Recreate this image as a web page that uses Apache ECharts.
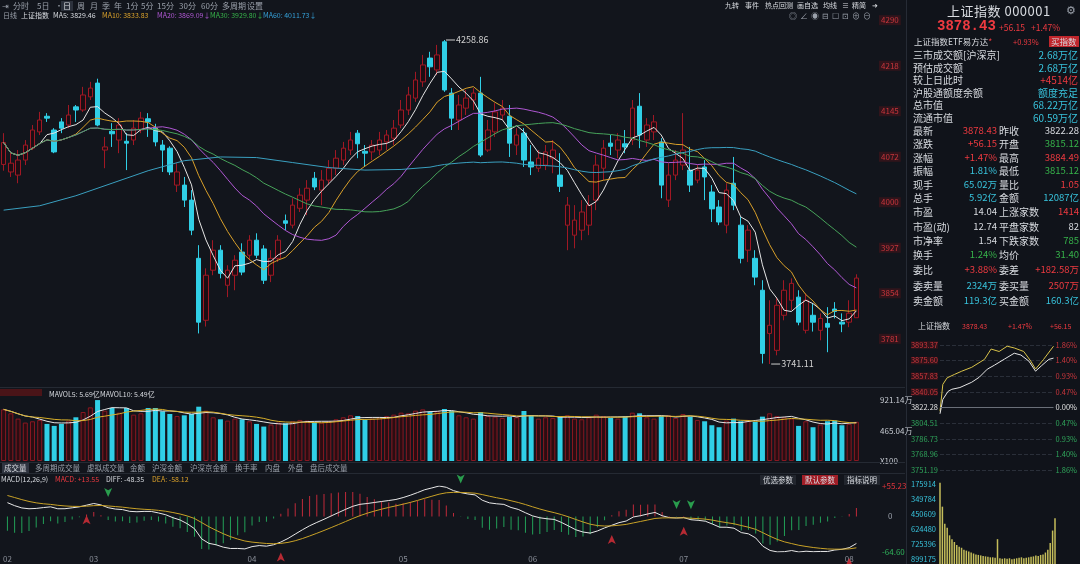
<!DOCTYPE html>
<html><head><meta charset="utf-8">
<script src="https://cdn.jsdelivr.net/npm/echarts@6/dist/echarts.min.js"></script>
<style>
html,body{margin:0;padding:0;background:#12151c;width:1080px;height:564px;overflow:hidden;}
#bgpanel{position:absolute;left:906px;top:0;width:174px;height:564px;background:#10131a;border-left:1px solid #262b35;}
#c{position:absolute;left:0;top:0;width:1080px;height:564px;}
#ov{position:absolute;left:0;top:0;width:1080px;height:564px;pointer-events:none;}
.t{position:absolute;white-space:nowrap;font-family:'Noto Sans CJK SC','Noto Sans',sans-serif;line-height:1;}
.g{color:#9aa0aa}.w{color:#d8dbe0}.r{color:#ee3a40}.c{color:#38c3dc}.gr{color:#36b24a}.y{color:#d9a02a}.p{color:#b058d4}.b{color:#35a0d8}
.hl{position:absolute;height:1px;background:#252a33;}
.tb{font-size:8px}
.m2{font-size:7px;top:12px}
</style></head><body>
<div id="bgpanel"></div>
<div id="c"></div>
<div id="ov">
  <!-- top toolbar -->
  <div class="t g tb" style="left:2px;top:2px">⇥</div>
  <div class="t g tb" style="left:13px;top:2px">分时</div>
  <div class="t g tb" style="left:37px;top:2px">5日</div>
  <div class="t g tb" style="left:55px;top:2px">·</div>
  <div class="t w tb" style="left:61px;top:1px;background:#2c313c;padding:1px 2px">日</div>
  <div class="t g tb" style="left:77px;top:2px">周</div>
  <div class="t g tb" style="left:90px;top:2px">月</div>
  <div class="t g tb" style="left:102px;top:2px">季</div>
  <div class="t g tb" style="left:114px;top:2px">年</div>
  <div class="t g tb" style="left:126px;top:2px">1分</div>
  <div class="t g tb" style="left:141px;top:2px">5分</div>
  <div class="t g tb" style="left:157px;top:2px">15分</div>
  <div class="t g tb" style="left:179px;top:2px">30分</div>
  <div class="t g tb" style="left:201px;top:2px">60分</div>
  <div class="t g tb" style="left:222px;top:2px">多周期</div>
  <div class="t g tb" style="left:247px;top:2px">设置</div>

  <div class="t g m2" style="left:3px">日线</div>
  <div class="t w m2" style="left:21px">上证指数</div>
  <div class="t w m2" style="left:53px">MA5: 3829.46</div>
  <div class="t y m2" style="left:102px">MA10: 3833.83</div>
  <div class="t p m2" style="left:157px">MA20: 3869.09↓</div>
  <div class="t gr m2" style="left:210px">MA30: 3929.80↓</div>
  <div class="t b m2" style="left:263px">MA60: 4011.73↓</div>

  <div class="t w" style="left:725px;top:2px;font-size:7px">九转</div>
  <div class="t w" style="left:745px;top:2px;font-size:7px">事件</div>
  <div class="t w" style="left:765px;top:2px;font-size:7px">热点回测</div>
  <div class="t w" style="left:797px;top:2px;font-size:7px">画自选</div>
  <div class="t w" style="left:823px;top:2px;font-size:7px">均线</div>
  <div class="t w" style="left:842px;top:2px;font-size:7px">≡</div>
  <div class="t w" style="left:852px;top:2px;font-size:7px">精简</div>
  <div class="t w" style="left:872px;top:2px;font-size:7px">➜</div>
  <div class="t g" style="left:789px;top:12px;font-size:8px;letter-spacing:3px">◎∠◉⊟☐⊡⊕⊖</div>

  <!-- separators -->
  <div class="hl" style="left:0;top:387px;width:905px"></div>
  <div class="hl" style="left:0;top:462px;width:905px"></div>
  <div class="hl" style="left:0;top:473px;width:905px"></div>

  <!-- volume header -->
  <div class="t" style="left:0;top:389px;width:42px;height:7px;background:#4a1418"></div>
  <div class="t w" style="left:49px;top:391px;font-size:7px">MAVOL5: 5.69亿</div>
  <div class="t w" style="left:100px;top:391px;font-size:7px">MAVOL10: 5.49亿</div>

  <!-- tabs -->
  <div class="t w" style="left:2px;top:463px;font-size:7.5px;background:#2f3440;padding:1px 2px">成交量</div>
  <div class="t g" style="left:35px;top:464px;font-size:7.5px">多周期成交量</div>
  <div class="t g" style="left:87px;top:464px;font-size:7.5px">虚拟成交量</div>
  <div class="t g" style="left:130px;top:464px;font-size:7.5px">金额</div>
  <div class="t g" style="left:152px;top:464px;font-size:7.5px">沪深金额</div>
  <div class="t g" style="left:190px;top:464px;font-size:7.5px">沪深京金额</div>
  <div class="t g" style="left:235px;top:464px;font-size:7.5px">换手率</div>
  <div class="t g" style="left:265px;top:464px;font-size:7.5px">内盘</div>
  <div class="t g" style="left:288px;top:464px;font-size:7.5px">外盘</div>
  <div class="t g" style="left:310px;top:464px;font-size:7.5px">盘后成交量</div>

  <!-- MACD header -->
  <div class="t w" style="left:1px;top:476px;font-size:7px">MACD(12,26,9)</div>
  <div class="t r" style="left:55px;top:476px;font-size:7px">MACD: +13.55</div>
  <div class="t w" style="left:106px;top:476px;font-size:7px">DIFF: -48.35</div>
  <div class="t y" style="left:152px;top:476px;font-size:7px">DEA: -58.12</div>
  <div class="t w" style="left:760px;top:475px;font-size:7.5px;background:#22262e;padding:1px 3px">优选参数</div>
  <div class="t w" style="left:802px;top:475px;font-size:7.5px;background:#a11e27;padding:1px 3px">默认参数</div>
  <div class="t w" style="left:844px;top:475px;font-size:7.5px;background:#22262e;padding:1px 3px">指标说明</div>

  <!-- right panel header -->
  <div class="t w" style="left:947px;top:4px;font-size:13px;letter-spacing:0.5px">上证指数 000001</div>
  <div class="t g" style="left:1066px;top:4px;font-size:11px">⚙</div>
  <div class="t r" style="left:937px;top:19px;font-size:14px;font-family:'Liberation Mono',monospace;font-weight:bold">3878.43</div>
  <div class="t r" style="left:999px;top:23px;font-size:8.5px">+56.15</div>
  <div class="t r" style="left:1031px;top:23px;font-size:8.5px">+1.47%</div>
  <div class="t w" style="left:914px;top:37px;font-size:8.5px">上证指数ETF易方达<span class="r">*</span></div>
  <div class="t r" style="left:1013px;top:38px;font-size:7.5px">+0.93%</div>
  <div class="t w" style="left:1049px;top:36px;font-size:8.5px;background:#c0262c;padding:1px 2px">买指数</div>
  <div id="rows"></div>

  <!-- intraday header -->
  <div class="t w" style="left:918px;top:322px;font-size:8px">上证指数</div>
  <div class="t r" style="left:962px;top:323px;font-size:7px">3878.43</div>
  <div class="t r" style="left:1008px;top:323px;font-size:7px">+1.47%</div>
  <div class="t r" style="left:1050px;top:323px;font-size:7px">+56.15</div>
  <div id="ivticks"></div>
</div>
<script>
// ---------- DATA ----------
const monthNames = ['02','03','04','05','06','07','08'];
const monthDays = [12,22,21,18,21,23,2];
// [open, close, low, high]
const ohlc = [
[4060,4095,4050,4110],[4048,4062,4040,4080],[4043,4067,4030,4083],[4067,4091,4059,4099],[4086,4115,4083,4123],
[4112,4131,4107,4144],[4137,4134,4128,4142],[4115,4080,4078,4118],[4128,4118,4110,4134],[4123,4139,4118,4155],
[4152,4147,4128,4155],[4147,4171,4144,4184],[4168,4182,4163,4192],[4190,4123,4121,4197],[4083,4088,4054,4104],
[4113,4109,4088,4126],[4099,4123,4078,4134],[4097,4094,4051,4110],[4099,4118,4091,4131],[4115,4134,4110,4144],
[4133,4128,4104,4142],[4118,4096,4089,4125],[4091,4083,4048,4099],[4086,4048,4043,4089],[4027,4048,4016,4062],
[4027,4003,3992,4040],[4003,3955,3947,4019],[3910,3808,3790,3931],[3811,3883,3801,3894],[3891,3923,3883,3939],
[3923,3886,3878,3931],[3867,3891,3848,3899],[3883,3907,3859,3915],[3920,3888,3883,3934],[3915,3939,3907,3947],
[3939,3915,3910,3950],[3925,3875,3869,3931],[3883,3910,3872,3923],[3910,3939,3904,3947],[3970,3966,3955,3980],
[3963,3995,3958,4006],[3990,4011,3984,4022],[4003,4022,3979,4035],[4038,4024,4019,4048],[4019,4035,3995,4051],
[4035,4054,4027,4067],[4054,4070,4043,4083],[4067,4086,4059,4096],[4083,4099,4075,4112],[4110,4093,4070,4115],
[4081,4078,4056,4091],[4080,4091,4067,4099],[4083,4099,4075,4112],[4096,4107,4083,4115],[4102,4118,4091,4131],
[4123,4147,4118,4163],[4147,4171,4139,4184],[4166,4195,4160,4208],[4192,4219,4184,4235],[4230,4216,4200,4240],
[4211,4235,4203,4251],[4256,4179,4176,4258.86],[4174,4134,4115,4182],[4131,4155,4115,4171],[4150,4166,4139,4179],
[4163,4174,4147,4182],[4174,4075,4072,4200],[4083,4115,4080,4131],[4112,4144,4104,4158],[4139,4150,4131,4163],
[4137,4094,4072,4155],[4091,4107,4075,4118],[4110,4067,4056,4118],[4064,4056,4043,4091],[4054,4070,4048,4083],
[4059,4080,4051,4091],[4070,4083,4046,4099],[4043,4025,4016,4078],[3963,3995,3923,4008],[3947,3971,3926,3995],
[3955,3984,3939,4003],[3963,3995,3947,4011],[4003,4059,3987,4075],[4054,4086,4035,4099],[4094,4089,4075,4107],
[4083,4099,4070,4110],[4093,4088,4078,4115],[4099,4150,4091,4163],[4153,4107,4086,4174],[4099,4123,4088,4134],
[4112,4128,4099,4139],[4096,4027,4006,4102],[4003,4043,3992,4062],[4043,4067,4035,4083],[4059,4083,4051,4142],
[4051,4027,4016,4088],[4035,4051,4030,4059],[4056,4040,4003,4067],[4016,3989,3968,4027],[3992,3968,3963,4003],
[3963,4019,3950,4030],[4030,3995,3987,4072],[3963,3910,3902,3976],[3923,3955,3904,3963],[3910,3880,3867,3923],
[3859,3758,3742,3875],[3790,3803,3741.11,3843],[3763,3835,3755,3848],[3819,3859,3811,3875],[3843,3870,3827,3878],
[3848,3808,3803,3859],[3795,3843,3790,3854],[3819,3808,3793,3838],[3795,3814,3779,3822],[3806,3800,3760,3832],
[3829,3825,3814,3840],[3808,3805,3792,3822],[3808,3822.28,3800,3843],[3815.12,3878.43,3815.12,3884.49]
];
// volume, 亿手
const volumes = [
7.8,7.2,6.4,5.8,6.0,6.2,5.6,5.3,5.6,6.1,6.6,7.4,8.1,9.2,7.6,8.0,7.3,8.0,7.0,7.2,
8.0,8.0,7.5,7.1,6.8,6.9,7.1,8.2,7.6,6.6,6.3,6.1,6.4,6.3,6.0,5.6,5.2,5.5,5.8,5.7,
6.0,6.2,6.1,5.9,5.8,6.0,6.3,6.6,6.9,6.8,6.2,6.4,6.6,6.8,7.0,7.3,7.2,7.6,7.8,7.4,
7.5,7.85,7.55,6.9,6.6,6.4,7.4,6.8,6.7,6.5,6.7,6.6,7.55,6.9,6.4,6.6,6.5,6.7,6.9,6.4,
6.3,6.6,7.0,6.8,6.5,6.4,6.7,7.3,7.2,6.6,6.4,6.8,6.9,6.5,7.1,6.7,6.2,6.0,5.4,5.1,
6.1,6.4,6.0,6.2,5.9,6.7,7.2,6.8,6.6,6.4,5.3,6.0,5.1,5.5,6.0,6.1,5.4,5.6,5.92
];
const ma60ReadIdx = [0,5,10,15,20,25,30,35,40,45,50,55];
const ma60ReadVal = [3987,3994,4010,4030,4050,4066,4072,4071,4063,4055,4051,4052];
// MACD state at the first candle
const macdStartDiff = 25, macdStartDea = 38;
// price axis tick scheme
const priceAxisMin = 3708.72, priceAxisMax = 4294, priceAxisStep = 72.72;
const volAxisMax = 9.2114;
const volTickLabels = ['X100','465.04万','921.14万'];
// intraday
const prevClose = 3822.28;
const intradayMin =   [0,6,17,25,42,67,83,100,115,136,157,171,188,202,215,230,240];
const intradayPrice = [3815.12,3831.5,3840.6,3843,3845,3851,3856.7,3865.9,3870.4,3877.3,3884.0,3882,3875,3863.6,3870,3877,3878.43];
const leadMin =   [0,6,15,31,46,67,94,108,125,142,157,177,192,202,219,240];
const leadPrice = [3818,3848.6,3856,3860,3863.6,3868,3877,3888.8,3886,3892,3890,3886,3875,3866,3877,3892];
const ivMin = [0,5,10,15,20,25,30,35,40,45,50,55,60,65,70,75,80,85,90,95,100,105,110,115,120,125,130,135,140,145,150,155,160,165,170,175,180,185,190,195,200,205,210,215,220,225,230,235,240];
const ivVol = [850000,600000,420000,380000,300000,260000,230000,200000,180000,170000,150000,140000,130000,120000,110000,100000,95000,90000,85000,80000,75000,70000,70000,65000,260000,60000,55000,60000,55000,60000,50000,55000,60000,65000,70000,60000,65000,70000,75000,80000,90000,85000,95000,100000,120000,150000,220000,350000,480000];
const intradayVolTicks = ['175914','349784','450609','624480','725396','899175'];
const intradayPctMax = 1.86, intradayPctStep = 0.465;

// right panel rows
const infoRows = [
 [55,'三市成交额[沪深京]','2.68万亿','c'],[68,'预估成交额','2.68万亿','c'],[80,'较上日此时','+4514亿','r'],
 [93,'沪股通额度余额','额度充足','c'],[105,'总市值','68.22万亿','c'],[118,'流通市值','60.59万亿','c']
];
const pairRows = [
 [131,'最新','3878.43','r','昨收','3822.28','w'],
 [144,'涨跌','+56.15','r','开盘','3815.12','gr'],
 [158,'涨幅','+1.47%','r','最高','3884.49','r'],
 [171,'振幅','1.81%','c','最低','3815.12','gr'],
 [185,'现手','65.02万','c','量比','1.05','r'],
 [198,'总手','5.92亿','c','金额','12087亿','c'],
 [212,'市盈','14.04','w','上涨家数','1414','r'],
 [227,'市盈(动)','12.74','w','平盘家数','82','w'],
 [241,'市净率','1.54','w','下跌家数','785','gr'],
 [255,'换手','1.24%','gr','均价','31.40','gr'],
 [270,'委比','+3.88%','r','委差','+182.58万','r'],
 [286,'委卖量','2324万','c','委买量','2507万','r'],
 [301,'卖金额','119.3亿','c','买金额','160.3亿','c']
];

// ---------- build text panel ----------
(function(){
  let h='';
  infoRows.forEach(r=>{
    h+=`<div class="t w" style="left:913px;top:${r[0]-5}px;font-size:10px">${r[1]}</div>`;
    h+=`<div class="t ${r[3]}" style="right:2px;top:${r[0]-5}px;font-size:10px">${r[2]}</div>`;
  });
  pairRows.forEach(r=>{
    h+=`<div class="t w" style="left:913px;top:${r[0]-5}px;font-size:10px">${r[1]}</div>`;
    h+=`<div class="t ${r[3]}" style="right:83px;top:${r[0]-5}px;font-size:9.5px">${r[2]}</div>`;
    h+=`<div class="t w" style="left:999px;top:${r[0]-5}px;font-size:10px">${r[4]}</div>`;
    h+=`<div class="t ${r[6]}" style="right:1px;top:${r[0]-5}px;font-size:9.5px">${r[5]}</div>`;
  });
  document.getElementById('rows').innerHTML=h;
  let k='';
  intradayVolTicks.forEach((s,i)=>{
    k+=`<div class="t c" style="left:911px;top:${480+i*15}px;font-size:7.5px">${s}</div>`;
  });
  document.getElementById('ivticks').innerHTML=k;
})();

// ---------- derived ----------
const cats=[], monthOf=[], monthStart=new Set();
monthNames.forEach((m,mi)=>{
  for(let d=1; d<=monthDays[mi]; d++){
    if(d===1) monthStart.add(cats.length);
    cats.push(m+'-'+d); monthOf.push(m);
  }
});
const closes = ohlc.map(d=>d[1]);
function maPartial(arr,n){
  return arr.map((c,i)=>{const s=Math.max(0,i-n+1); let t=0; for(let k=s;k<=i;k++) t+=arr[k]; return +(t/(i-s+1)).toFixed(2);});
}
const ma5=maPartial(closes,5), ma10=maPartial(closes,10), ma20=maPartial(closes,20), ma30=maPartial(closes,30);
const ma60 = closes.map((c,i)=>{ if(i<59) return '-'; let t=0; for(let k=i-59;k<=i;k++) t+=closes[k]; return +(t/60).toFixed(2);});
ma60ReadIdx.forEach((idx,k)=>{ ma60[idx]=ma60ReadVal[k]; });
const mavol5=maPartial(volumes,5), mavol10=maPartial(volumes,10);

// MACD(12,26,9) with the EMAs seeded from the state read at the first candle
let e12=closes[0]+macdStartDiff/2, e26=closes[0]-macdStartDiff/2, deaV=macdStartDea;
const diff=[], dea=[], hist=[];
closes.forEach((c,i)=>{
  if(i>0){ e12 += (c-e12)*2/13; e26 += (c-e26)*2/27; }
  const d=e12-e26; if(i>0) deaV += (d-deaV)*2/10;
  diff.push(+d.toFixed(2)); dea.push(+deaV.toFixed(2)); hist.push(+(2*(d-deaV)).toFixed(2));
});
const golden=[], death=[];
for(let i=1;i<closes.length;i++){
  if(diff[i-1]<=dea[i-1] && diff[i]>dea[i]) golden.push([i, dea[i]]);
  if(diff[i-1]>=dea[i-1] && diff[i]<dea[i]) death.push([i, dea[i]]);
}
const mAll=diff.concat(dea,hist);
const mMin=Math.min(...mAll), mMax=Math.max(...mAll);

const UP_BORDER='#a01824', CYAN='#30cfe6';
const volData = volumes.map((v,i)=>{
  const up = ohlc[i][1]>=ohlc[i][0];
  return {value:v, itemStyle: up ? {color:'rgba(60,8,12,0.6)', borderColor:'#8a1822', borderWidth:1} : {color:CYAN}};
});
const histData = hist.map(v=>({value:v, itemStyle:{color: v>=0 ? '#c02a3a' : '#22a058'}}));
const pct = p => +((p/prevClose-1)*100).toFixed(3);

const lineS = (name,data,color,xi,yi)=>({type:'line',name,data,xAxisIndex:xi,yAxisIndex:yi,showSymbol:false,symbol:'none',
  lineStyle:{color,width:1},itemStyle:{color},z:3,silent:true,connectNulls:true});

const chart = echarts.init(document.getElementById('c'));
chart.setOption({
  animation:false,
  backgroundColor:'transparent',
  textStyle:{fontFamily:"'Noto Sans CJK SC','Noto Sans',sans-serif"},
  grid:[
    {left:0, top:18, width:860, height:366.3},
    {left:0, top:400, width:860, height:61},
    {left:0, top:486, width:860, height:66},
    {left:940, top:345, width:115, height:125},
    {left:940, top:478, width:115, height:86}
  ],
  xAxis:[
    {type:'category', gridIndex:0, data:cats, show:false},
    {type:'category', gridIndex:1, data:cats, show:false},
    {type:'category', gridIndex:2, data:cats, axisLine:{show:false}, axisTick:{show:false}, splitLine:{show:false},
      axisLabel:{interval:(i)=>monthStart.has(i), formatter:(v,i)=>monthOf[i], color:'#8a8f99', fontSize:8, margin:3}},
    {type:'value', gridIndex:3, min:0, max:240, show:false},
    {type:'value', gridIndex:4, min:0, max:240, show:false}
  ],
  yAxis:[
    {type:'value', gridIndex:0, position:'right', min:priceAxisMin, max:priceAxisMax, interval:priceAxisStep,
      axisLine:{show:false}, axisTick:{show:false}, splitLine:{show:false},
      axisLabel:{showMinLabel:false, showMaxLabel:false, formatter:v=>String(Math.round(v)), color:'#c8363c', fontSize:8, margin:19,
        backgroundColor:'rgba(110,20,25,0.35)', padding:[1,2]}},
    {type:'value', gridIndex:1, position:'right', min:0, max:volAxisMax, interval:volAxisMax/2,
      axisLine:{show:false}, axisTick:{show:false}, splitLine:{show:false},
      axisLabel:{formatter:(v,i)=>volTickLabels[i]||'', color:'#c8ccd3', fontSize:8, margin:20}},
    {type:'value', gridIndex:2, position:'right', min:mMin, max:mMax, interval:mMax-mMin,
      axisLine:{show:false}, axisTick:{show:false}, splitLine:{show:false},
      axisLabel:{showMinLabel:true, showMaxLabel:true, fontSize:8, margin:22,
        formatter:v=> v>0 ? '{r|+'+v.toFixed(2)+'}' : '{g|'+v.toFixed(2)+'}',
        rich:{r:{color:'#e0343c',fontSize:8}, g:{color:'#2fb35a',fontSize:8}}}},
    {type:'value', gridIndex:3, position:'left', min:-intradayPctMax, max:intradayPctMax, interval:intradayPctStep,
      axisLine:{show:false}, axisTick:{show:false},
      splitLine:{show:true, lineStyle:{color:'#2a2f39', type:'dashed', width:1}},
      axisLabel:{fontSize:7.5, margin:2,
        formatter:v=>{const s=(prevClose*(1+v/100)).toFixed(2); return Math.abs(v)<1e-6?'{w|'+s+'}':(v>0?'{r|'+s+'}':'{g|'+s+'}');},
        rich:{r:{color:'#c8363c',fontSize:7.5,backgroundColor:'rgba(110,20,25,0.35)'}, g:{color:'#2fa35a',fontSize:7.5}, w:{color:'#e0e0e0',fontSize:7.5}}}},
    {type:'value', gridIndex:3, position:'right', min:-intradayPctMax, max:intradayPctMax, interval:intradayPctStep,
      axisLine:{show:false}, axisTick:{show:false}, splitLine:{show:false},
      axisLabel:{fontSize:7.5, margin:2,
        formatter:v=>{const s=Math.abs(v).toFixed(2)+'%'; return Math.abs(v)<1e-6?'{w|'+s+'}':(v>0?'{r|'+s+'}':'{g|'+s+'}');},
        rich:{r:{color:'#c8363c',fontSize:7.5}, g:{color:'#2fa35a',fontSize:7.5}, w:{color:'#e0e0e0',fontSize:7.5}}}},
    {type:'value', gridIndex:4, min:0, max:900000, show:false}
  ],
  series:[
    {type:'candlestick', name:'K', data:ohlc, xAxisIndex:0, yAxisIndex:0, barWidth:5,
      itemStyle:{color:'rgba(40,6,10,0.5)', color0:CYAN, borderColor:UP_BORDER, borderColor0:CYAN, borderWidth:1},
      markPoint:{symbol:'rect', symbolSize:[9,1], symbolOffset:[6,0], silent:true,
        itemStyle:{color:'#cfcfcf'},
        label:{show:true, position:'right', distance:1, color:'#d0d0d0', fontSize:9, formatter:p=>String(p.value)},
        data:[{type:'max', valueDim:'highest'},{type:'min', valueDim:'lowest'}]}},
    lineS('MA5',ma5,'#e6e6e6',0,0),
    lineS('MA10',ma10,'#d9a02a',0,0),
    lineS('MA20',ma20,'#b058d4',0,0),
    lineS('MA30',ma30,'#47a35a',0,0),
    lineS('MA60',ma60,'#3aa0c0',0,0),
    {type:'bar', name:'VOL', data:volData, xAxisIndex:1, yAxisIndex:1, barWidth:5, silent:true},
    lineS('MAVOL5',mavol5,'#e6e6e6',1,1),
    lineS('MAVOL10',mavol10,'#d9b02a',1,1),
    {type:'bar', name:'MACD', data:histData, xAxisIndex:2, yAxisIndex:2, barWidth:1, silent:true,
      markLine:{silent:true, symbol:'none', data:[{yAxis:0}], lineStyle:{color:'rgba(0,0,0,0)', width:1},
        label:{show:true, position:'end', formatter:'0', color:'#9aa0aa', fontSize:8, distance:28}}},
    lineS('DIFF',diff,'#e8e8e8',2,2),
    lineS('DEA',dea,'#c9a227',2,2),
    {type:'scatter', name:'golden', data:golden, xAxisIndex:2, yAxisIndex:2, symbol:'arrow', symbolSize:[6,9], symbolOffset:[0,9], itemStyle:{color:'#e0303a'}, silent:true, z:5},
    {type:'scatter', name:'death', data:death, xAxisIndex:2, yAxisIndex:2, symbol:'arrow', symbolSize:[6,9], symbolRotate:180, symbolOffset:[0,-9], itemStyle:{color:'#2fbf5a'}, silent:true, z:5},
    {type:'line', name:'intraday', data:intradayMin.map((m,k)=>[m,pct(intradayPrice[k])]), xAxisIndex:3, yAxisIndex:3, showSymbol:false, symbol:'none', lineStyle:{color:'#e6e6e6',width:1}, silent:true, z:4,
      markLine:{silent:true, symbol:'none', data:[{yAxis:0}], lineStyle:{color:'#6a6f78', type:'solid', width:1}, label:{show:false}}},
    {type:'line', name:'lead', data:leadMin.map((m,k)=>[m,pct(leadPrice[k])]), xAxisIndex:3, yAxisIndex:3, showSymbol:false, symbol:'none', lineStyle:{color:'#d9c34a',width:1}, silent:true, z:3},
    {type:'bar', name:'ivol', data:ivMin.map((m,k)=>[m,ivVol[k]]), xAxisIndex:4, yAxisIndex:5, barWidth:1.5, itemStyle:{color:'#c4bd5a'}, silent:true}
  ]
});
</script>
</body></html>
